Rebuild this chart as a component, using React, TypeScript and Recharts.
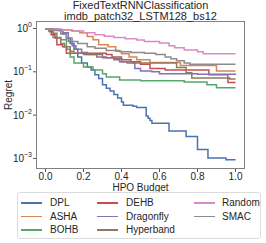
import { LineChart, Line, Area, XAxis, YAxis } from 'recharts';

// [budget, regret] step points
const DPL = [
  [0, 0.97], [0.04, 0.95], [0.07, 0.9], [0.09, 0.75], [0.11, 0.6], [0.13, 0.45], [0.15, 0.33],
  [0.17, 0.22], [0.19, 0.16], [0.22, 0.13], [0.24, 0.11], [0.26, 0.085], [0.28, 0.07], [0.3, 0.05],
  [0.32, 0.042], [0.34, 0.036], [0.36, 0.03], [0.38, 0.025], [0.4, 0.02], [0.41, 0.017], [0.46, 0.016],
  [0.48, 0.015], [0.53, 0.0095], [0.54, 0.0085], [0.55, 0.0075], [0.56, 0.0065], [0.65, 0.0043],
  [0.74, 0.0032], [0.8, 0.0016], [0.855, 0.00102], [0.95, 0.00093], [1.0, 0.00093],
];
// DPL spread: [budget, low, high]
const DPL_BAND = [
  [0.53, 0.0086, 0.0105], [0.54, 0.0077, 0.0094], [0.55, 0.0068, 0.0083], [0.56, 0.0059, 0.0072],
  [0.65, 0.0039, 0.0047], [0.74, 0.0029, 0.0035], [0.8, 0.00142, 0.0018], [0.855, 0.00092, 0.00113],
  [0.95, 0.00083, 0.00104], [1.0, 0.00083, 0.00104],
];
const ASHA = [
  [0, 0.97], [0.05, 0.92], [0.14, 0.88], [0.18, 0.8], [0.22, 0.65], [0.25, 0.55], [0.28, 0.42],
  [0.33, 0.38], [0.37, 0.3], [0.4, 0.26], [0.44, 0.22], [0.48, 0.19], [0.55, 0.165], [0.71, 0.14],
  [0.9, 0.105], [1, 0.105],
];
const BOHB = [
  [0, 0.97], [0.02, 0.85], [0.04, 0.62], [0.08, 0.55], [0.11, 0.33], [0.13, 0.22], [0.15, 0.16],
  [0.2, 0.13], [0.25, 0.11], [0.3, 0.09], [0.32, 0.076], [0.39, 0.065], [0.5, 0.062], [0.73, 0.058],
  [0.85, 0.05], [0.9, 0.043], [1, 0.043],
];
const DEHB = [
  [0, 0.97], [0.02, 0.85], [0.03, 0.72], [0.05, 0.6], [0.06, 0.42], [0.09, 0.38], [0.11, 0.27],
  [0.32, 0.25], [0.35, 0.22], [0.4, 0.19], [0.45, 0.17], [0.5, 0.15], [0.55, 0.12], [0.63, 0.11],
  [0.86, 0.085], [0.96, 0.057], [1, 0.057],
];
const DRAGONFLY = [
  [0, 0.97], [0.06, 0.95], [0.09, 0.8], [0.12, 0.5], [0.14, 0.4], [0.16, 0.33], [0.19, 0.28],
  [0.22, 0.25], [0.27, 0.22], [0.32, 0.21], [0.36, 0.2], [0.4, 0.17], [0.43, 0.16], [0.47, 0.12],
  [0.5, 0.105], [0.56, 0.1], [0.6, 0.09], [0.8, 0.088], [1, 0.085],
];
const HYPERBAND = [
  [0, 0.97], [0.02, 0.9], [0.04, 0.78], [0.06, 0.6], [0.08, 0.45], [0.1, 0.38], [0.13, 0.3],
  [0.15, 0.27], [0.2, 0.25], [0.3, 0.21], [0.36, 0.19], [0.39, 0.17], [0.46, 0.16], [0.69, 0.125],
  [0.74, 0.095], [0.77, 0.072], [0.97, 0.068], [1, 0.068],
];
const RANDOM = [
  [0, 0.97], [0.08, 0.93], [0.14, 0.88], [0.2, 0.8], [0.26, 0.72], [0.31, 0.66], [0.36, 0.62],
  [0.42, 0.58], [0.48, 0.54], [0.52, 0.5], [0.6, 0.46], [0.65, 0.4], [0.68, 0.36], [0.73, 0.32],
  [0.8, 0.29], [0.83, 0.26], [1, 0.26],
];
const SMAC = [
  [0, 0.97], [0.04, 0.9], [0.08, 0.75], [0.11, 0.6], [0.14, 0.5], [0.17, 0.45], [0.22, 0.38],
  [0.26, 0.35], [0.32, 0.31], [0.39, 0.29], [0.45, 0.28], [0.52, 0.27], [0.58, 0.25], [0.63, 0.22],
  [0.66, 0.2], [0.69, 0.18], [0.73, 0.16], [0.76, 0.15], [1, 0.15],
];

const X_TICKS = [0, 0.2, 0.4, 0.6, 0.8, 1.0];
const Y_TICKS = [1, 0.1, 0.01, 0.001];
const Y_EXP = ['0', '\u22121', '\u22122', '\u22123'];

const SERIES = [
  { name: 'DPL', pts: DPL, color: '#4C72B0' },
  { name: 'ASHA', pts: ASHA, color: '#DD8452' },
  { name: 'BOHB', pts: BOHB, color: '#55A868' },
  { name: 'DEHB', pts: DEHB, color: '#C44E52' },
  { name: 'Dragonfly', pts: DRAGONFLY, color: '#8172B3' },
  { name: 'Hyperband', pts: HYPERBAND, color: '#937860' },
  { name: 'Random', pts: RANDOM, color: '#DA8BC3' },
  { name: 'SMAC', pts: SMAC, color: '#8C8C8C' },
];

const FONT = '"Liberation Sans", Arial, sans-serif';
const TXT = '#262626';

const YTick = ({ x, y, payload }: any) => {
  const i = Y_TICKS.indexOf(payload.value);
  return (
    <text x={x} y={y} textAnchor="end" fontFamily={FONT} fontSize={10} fill={TXT}>
      <tspan dy={3.5}>10</tspan>
      <tspan dy={-5} fontSize={7}>{Y_EXP[i]}</tspan>
    </text>
  );
};

// legend columns: [swatch x, text x]
const LEG_COLS = [[21, 50], [97, 126], [194, 222]];
const LEG_ROWS = [203, 216.5, 230];

export default function App() {
  const band = DPL_BAND.map(([b, lo, hi]) => ({ b, r: [lo, hi] }));
  return (
    <div style={{ position: 'absolute', left: 0, top: 0, width: 266, height: 243, background: '#fff', fontFamily: FONT, color: TXT }}>
      <LineChart width={266} height={243} margin={{ top: 21, right: 21, left: 0, bottom: 0 }}>
        <XAxis
          dataKey="b"
          type="number"
          domain={[-0.05, 1.05]}
          ticks={X_TICKS}
          tickFormatter={(v: number) => v.toFixed(1)}
          height={74}
          tickSize={3}
          tickMargin={1}
          axisLine={false}
          tickLine={{ stroke: '#555' }}
          tick={{ fontSize: 10, fill: TXT, fontFamily: FONT }}
          allowDataOverflow
        />
        <YAxis
          type="number"
          scale="log"
          domain={[0.00057, 1.49]}
          ticks={Y_TICKS}
          width={36}
          tickSize={3}
          tickMargin={1}
          axisLine={false}
          tickLine={{ stroke: '#555' }}
          tick={<YTick />}
          allowDataOverflow
        />
        <Area
          data={band}
          dataKey="r"
          type="stepAfter"
          stroke="none"
          fill="#4C72B0"
          fillOpacity={0.2}
          isAnimationActive={false}
        />
        {SERIES.map((s) => (
          <Line
            key={s.name}
            data={s.pts.map(([b, r]) => ({ b, r }))}
            dataKey="r"
            type="stepAfter"
            stroke={s.color}
            strokeWidth={1.5}
            dot={false}
            isAnimationActive={false}
          />
        ))}
      </LineChart>
      <div style={{ position: 'absolute', left: 36, top: 21, width: 209, height: 148, boxSizing: 'border-box', border: '1px solid #808080', pointerEvents: 'none' }} />
      <div style={{ position: 'absolute', left: 20, width: 241, top: 0, textAlign: 'center', fontSize: 11, lineHeight: '10.5px', whiteSpace: 'nowrap' }}>
        FixedTextRNNClassification<br />imdb_patch32_LSTM128_bs12
      </div>
      <div style={{ position: 'absolute', left: 9, top: 95, fontSize: 10, lineHeight: '10px', transform: 'translate(-50%, -50%) rotate(-90deg)', whiteSpace: 'nowrap' }}>
        Regret
      </div>
      <div style={{ position: 'absolute', left: 36, width: 209, top: 181.5, textAlign: 'center', fontSize: 10, lineHeight: '11px' }}>
        HPO Budget
      </div>
      <div style={{ position: 'absolute', left: 17, top: 192, width: 244, height: 47, boxSizing: 'border-box', border: '1px solid #dcdcdc', borderRadius: 3 }} />
      {SERIES.map((s, i) => {
        const col = Math.floor(i / 3);
        const row = i % 3;
        const [sx, tx] = LEG_COLS[col];
        const cy = LEG_ROWS[row];
        return (
          <div key={s.name}>
            <div style={{ position: 'absolute', left: sx, top: cy - 0.75, width: 21, height: 1.5, background: s.color }} />
            <div style={{ position: 'absolute', left: tx, top: cy - 6, fontSize: 10, lineHeight: '12px', whiteSpace: 'nowrap' }}>{s.name}</div>
          </div>
        );
      })}
    </div>
  );
}
